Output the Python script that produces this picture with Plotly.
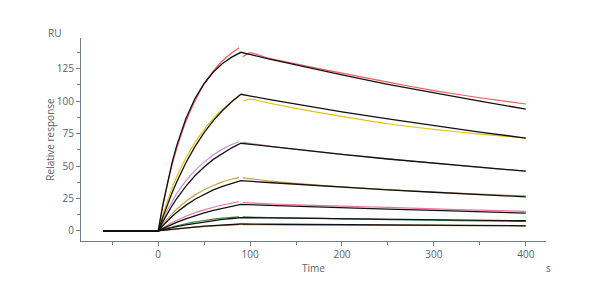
import plotly.graph_objects as go

# Time points (s)
t_base = [-60, 0]
t_assoc_fit = [0, 5, 10, 15, 20, 30, 40, 50, 60, 70, 80, 90]
t_dis_fit = [90, 120, 160, 200, 250, 300, 350, 400]
t_assoc_data = [0, 5, 10, 15, 20, 30, 40, 50, 60, 70, 80, 88]
t_dis_data = [92, 100, 120, 160, 200, 250, 300, 350, 400]

# Measured responses (RU), one series per concentration
red_assoc = [0, 19, 36, 50.5, 63, 84, 100, 113, 123, 131, 137, 141]
red_dis = [134, 137, 133, 127, 121.5, 114.5, 108, 102.5, 97.7]
yellow_assoc = [0, 12, 23, 33, 41.5, 56, 68, 78, 86.5, 93.5, 99.5, 104]
yellow_dis = [100, 101.5, 98.5, 93, 88.2, 82.5, 78.2, 74.6, 71.5]
purple_assoc = [0, 8.5, 16, 22.5, 28.5, 38.5, 46.5, 53, 58.5, 63, 66.5, 68.7]
purple_dis = [68.5, 67.5, 65.3, 62.0, 59.0, 55.5, 52.2, 49.0, 46.0]
tan_assoc = [0, 5.0, 9.3, 13.2, 16.7, 22.7, 27.6, 31.7, 35.0, 37.8, 39.8, 41.2]
tan_dis = [40.8, 40.3, 38.6, 36.0, 34.0, 31.8, 29.9, 28.3, 27.0]
pink_assoc = [0, 2.3, 4.4, 6.3, 8.1, 11.3, 14.0, 16.3, 18.3, 20.0, 21.5, 22.5]
pink_dis = [22.0, 21.6, 20.9, 19.9, 19.1, 18.2, 17.0, 16.0, 15.1]
green_assoc = [0, 1.2, 2.2, 3.1, 4.0, 5.6, 7.0, 8.1, 9.1, 9.9, 10.5, 10.9]
green_dis = [10.8, 10.6, 10.3, 9.9, 9.4, 8.8, 8.3, 7.8, 7.4]
orange_assoc = [0, 0.4, 0.8, 1.2, 1.6, 2.3, 2.9, 3.4, 3.9, 4.3, 4.6, 4.8]
orange_dis = [4.9, 4.85, 4.8, 4.7, 4.6, 4.4, 4.3, 4.1, 4.0]
baseline = [0, 0]

# Fitted curves (RU)
fit_assoc = [
    [0, 20.0, 37.4, 52.4, 65.3, 86.2, 101.9, 113.5, 122.3, 128.9, 133.8, 137.5],
    [0, 10.5, 20.2, 29.2, 37.5, 52.3, 64.9, 75.7, 84.9, 92.7, 99.5, 105.2],
    [0, 7.0, 13.5, 19.4, 24.8, 34.4, 42.5, 49.3, 55.1, 59.9, 64.0, 67.5],
    [0, 4.0, 7.7, 11.1, 14.2, 19.7, 24.4, 28.3, 31.6, 34.4, 36.7, 38.7],
    [0, 1.8, 3.5, 5.1, 6.6, 9.4, 11.8, 14.0, 15.9, 17.6, 19.2, 20.5],
    [0, 0.9, 1.8, 2.6, 3.3, 4.7, 5.9, 7.0, 8.0, 8.9, 9.6, 10.3],
    [0, 0.5, 0.9, 1.3, 1.7, 2.5, 3.1, 3.7, 4.2, 4.6, 5.0, 5.4],
]
fit_dis = [
    [137.5, 132.5, 126.2, 120.1, 112.9, 106.2, 99.9, 93.8],
    [105.2, 101.3, 96.4, 91.7, 86.2, 81.0, 76.1, 71.5],
    [67.5, 65.0, 61.9, 58.9, 55.4, 52.1, 48.9, 46.0],
    [38.7, 37.3, 35.5, 33.7, 31.7, 29.8, 28.0, 26.3],
    [20.5, 19.7, 18.7, 17.8, 16.8, 15.8, 14.8, 13.8],
    [10.3, 10.1, 9.8, 9.4, 9.0, 8.6, 8.2, 7.9],
    [5.4, 5.2, 5.0, 4.8, 4.6, 4.4, 4.2, 4.0],
]

x_ticks = [0, 100, 200, 300, 400]
y_ticks = [0, 25, 50, 75, 100, 125]

data_series = [
    (red_assoc, red_dis, "#f25a5a"),
    (yellow_assoc, yellow_dis, "#e3c20e"),
    (purple_assoc, purple_dis, "#c98fd0"),
    (tan_assoc, tan_dis, "#c9a444"),
    (pink_assoc, pink_dis, "#f0709e"),
    (green_assoc, green_dis, "#3a8a3e"),
    (orange_assoc, orange_dis, "#c8842e"),
]

fig = go.Figure()

for a, d, c in data_series:
    fig.add_trace(go.Scatter(x=t_base, y=baseline, mode="lines",
                             line=dict(color=c, width=1.2), showlegend=False, hoverinfo="skip"))
    fig.add_trace(go.Scatter(x=t_assoc_data, y=a,
                             mode="lines", line=dict(color=c, width=1.2, shape="spline", smoothing=0.5),
                             showlegend=False, hoverinfo="skip"))
    fig.add_trace(go.Scatter(x=t_dis_data, y=d,
                             mode="lines", line=dict(color=c, width=1.2, shape="spline", smoothing=0.5),
                             showlegend=False, hoverinfo="skip"))

for a, d in zip(fit_assoc, fit_dis):
    fig.add_trace(go.Scatter(x=t_base + t_assoc_fit[1:] + t_dis_fit[1:],
                             y=baseline + a[1:] + d[1:],
                             mode="lines", line=dict(color="#111111", width=1.3),
                             showlegend=False, hoverinfo="skip"))

axis_color = "#6f7c8c"
font = dict(family="Open Sans, Noto Sans, sans-serif", size=10, color="#5a5f66")

fig.update_layout(
    width=600, height=300,
    margin=dict(l=81, r=54, t=38, b=59),
    paper_bgcolor="white", plot_bgcolor="white",
    font=font,
    xaxis=dict(range=[-84, 422], tickvals=x_ticks, showgrid=False, zeroline=False,
               showline=True, linecolor=axis_color, linewidth=1,
               ticks="outside", ticklen=4, tickcolor=axis_color,
               minor=dict(dtick=50, tick0=0, ticks="outside", ticklen=3, tickcolor=axis_color),
               title=dict(text="Time", standoff=4, font=font)),
    yaxis=dict(range=[-7.7, 148.5], tickvals=y_ticks, showgrid=False, zeroline=False,
               showline=True, linecolor=axis_color, linewidth=1,
               ticks="outside", ticklen=4, tickcolor=axis_color,
               minor=dict(dtick=12.5, tick0=0, ticks="outside", ticklen=3, tickcolor=axis_color),
               title=dict(text="Relative response", standoff=0, font=font)),
    annotations=[
        dict(text="RU", xref="paper", yref="paper", x=(54 - 81) / 465, y=1 + (38 - 33) / 203,
             xanchor="center", yanchor="middle", showarrow=False, font=font),
        dict(text="s", xref="paper", yref="paper", x=(548 - 81) / 465, y=-(268 - 241) / 203,
             xanchor="center", yanchor="middle", showarrow=False, font=font),
    ],
)

fig.write_html("out.html")
